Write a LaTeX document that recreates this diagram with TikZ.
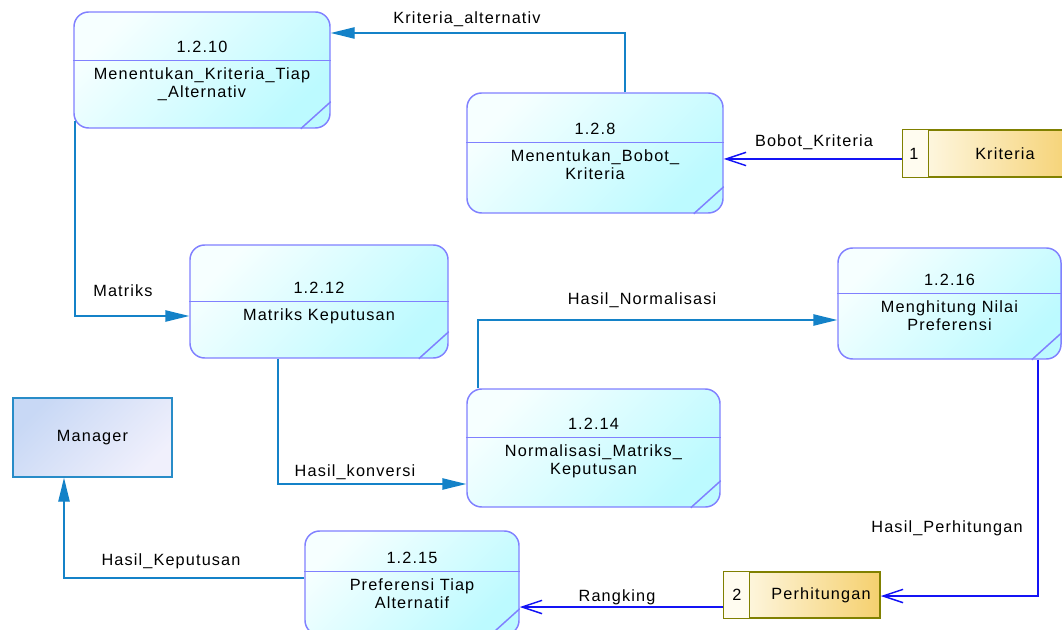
\documentclass[tikz,border=0pt]{standalone}
\usepackage{fontspec}
\setmainfont{Liberation Sans}[LetterSpace=7]
\usetikzlibrary{arrows.meta,fit,calc}

\definecolor{procline}{RGB}{128,128,255}
\definecolor{proclight}{RGB}{246,255,255}
\definecolor{procdark}{RGB}{188,250,255}
\definecolor{flowteal}{RGB}{20,130,200}
\definecolor{flowblue}{RGB}{20,20,245}
\definecolor{storeline}{RGB}{128,128,0}
\definecolor{storelight}{RGB}{255,252,240}
\definecolor{storedark}{RGB}{245,208,110}
\definecolor{extline}{RGB}{40,140,200}
\definecolor{extlight}{RGB}{200,216,245}
\definecolor{extdark}{RGB}{240,240,252}

\newcommand\labelfont{\fontsize{12.2}{13.2}\selectfont}

\tikzset{
  x=0.75pt, y=-0.75pt,
  every node/.style={inner sep=0pt},
  proc/.style={draw=procline, line width=1.1pt, rounded corners=11pt,
    top color=proclight, bottom color=procdark, shading angle=45},
  ptext/.style={align=center, text=black, font=\labelfont},
  store/.style={draw=storeline, line width=1.1pt,
    left color=storelight, right color=storedark},
  extbox/.style={draw=extline, line width=1.1pt,
    top color=extlight, bottom color=extdark, shading angle=45, font=\labelfont},
  flowA/.style={draw=flowteal, line width=1.1pt,
    -{Triangle[length=18pt, width=8.5pt]}},
  flowB/.style={draw=flowblue, line width=1.1pt,
    -{Straight Barb[length=15pt, width=10pt]}},
  lbl/.style={text=black, font=\labelfont}
}

% process box: name, x1, y1, x2, y2, divider offset, number, description
\newcommand\procbox[8]{%
  \node[proc, fit={(#2,#3) (#4,#5)}] (#1) {};
  \draw[procline, line width=1.1pt]
    ($(#1.north west)+(0,#6)$) -- ($(#1.north east)+(0,#6)$);
  \draw[procline, line width=1.1pt]
    ($(#1.south east)+(-30,0)$) -- ($(#1.south east)+(0,-27)$);
  \node[ptext] (#1num) at ($(#1.north)+(0,#6-13)$) {#7};
  \node[ptext, anchor=north] (#1txt) at ($(#1.north)+(0,#6+7.5)$) {#8};
}

\begin{document}
\begin{tikzpicture}
\useasboundingbox (0,0) rectangle (1062,630);
\clip (0,0) rectangle (1062,630);

% processes
\procbox{p10}{74}{12}{330}{128}{49}{1.2.10}{Menentukan\_Kriteria\_Tiap\\ \_Alternativ}
\procbox{p8}{467}{93}{723}{213}{50}{1.2.8}{Menentukan\_Bobot\_\\ Kriteria}
\procbox{p12}{190}{245}{448}{358}{57}{1.2.12}{Matriks Keputusan}
\procbox{p14}{467}{389}{720}{507}{49}{1.2.14}{Normalisasi\_Matriks\_\\ Keputusan}
\procbox{p16}{838}{248}{1061}{359}{46}{1.2.16}{Menghitung Nilai\\ Preferensi}
\procbox{p15}{305}{531}{519}{635}{41}{1.2.15}{Preferensi Tiap\\ Alternatif}

% data stores
\node[store, fit={(903,130) (1080,177)}] (kri) {};
\fill[storelight] ($(kri.north west)+(0.6,0.8)$) rectangle ($(kri.south west)+(26,-0.8)$);
\draw[storeline, line width=1.1pt] ($(kri.north west)+(26,0)$) -- ($(kri.south west)+(26,0)$);
\node[lbl] (krinum) at (914,154) {1};
\node[lbl] (krilbl) at (1005,154) {Kriteria};

\node[store, fit={(724,572) (880,618)}] (per) {};
\fill[storelight] ($(per.north west)+(0.6,0.8)$) rectangle ($(per.south west)+(26,-0.8)$);
\draw[storeline, line width=1.1pt] ($(per.north west)+(26,0)$) -- ($(per.south west)+(26,0)$);
\node[lbl] (pernum) at (737,595) {2};
\node[lbl] (perlbl) at (821,595) {Perhitungan};

% external entity
\node[extbox, fit={(13,398) (172,477)}] (mgr) {};
\node[lbl] (mgrtxt) at (mgr) {Manager};

% bend points of the flows
\coordinate (b1) at (625,33);
\coordinate (b2) at (800,159);
\coordinate (b3) at (75,316);
\coordinate (b4) at (278,484);
\coordinate (b5) at (478,320);
\coordinate (b6) at (1038,596);
\coordinate (b7) at (600,607);
\coordinate (b8) at (64,578);

% data flows
\draw[flowA] (p8.north -| b1) -- (b1) -- (p10.east |- b1);
\draw[flowB] (kri.west |- b2) -- (p8.east |- b2);
\draw[flowA] ($(p10.south -| b3)+(0,-8)$) -- (b3) -- (p12.west |- b3);
\draw[flowA] (p12.south -| b4) -- (b4) -- (p14.west |- b4);
\draw[flowA] (p14.north -| b5) -- (b5) -- (p16.west |- b5);
\draw[flowB] (p16.south -| b6) -- (b6) -- (per.east |- b6);
\draw[flowB] (per.west |- b7) -- (p15.east |- b7);
\draw[flowA] (p15.west |- b8) -- (b8) -- (mgr.south -| b8);

% flow labels
\node[lbl] (l1) at (467,19) {Kriteria\_alternativ};
\node[lbl] (l2) at (814,142) {Bobot\_Kriteria};
\node[lbl] (l3) at (123,291) {Matriks};
\node[lbl] (l4) at (355,472) {Hasil\_konversi};
\node[lbl] (l5) at (642,300) {Hasil\_Normalisasi};
\node[lbl] (l6) at (947,528) {Hasil\_Perhitungan};
\node[lbl] (l7) at (617,597) {Rangking};
\node[lbl] (l8) at (171,561) {Hasil\_Keputusan};
\end{tikzpicture}
\end{document}
